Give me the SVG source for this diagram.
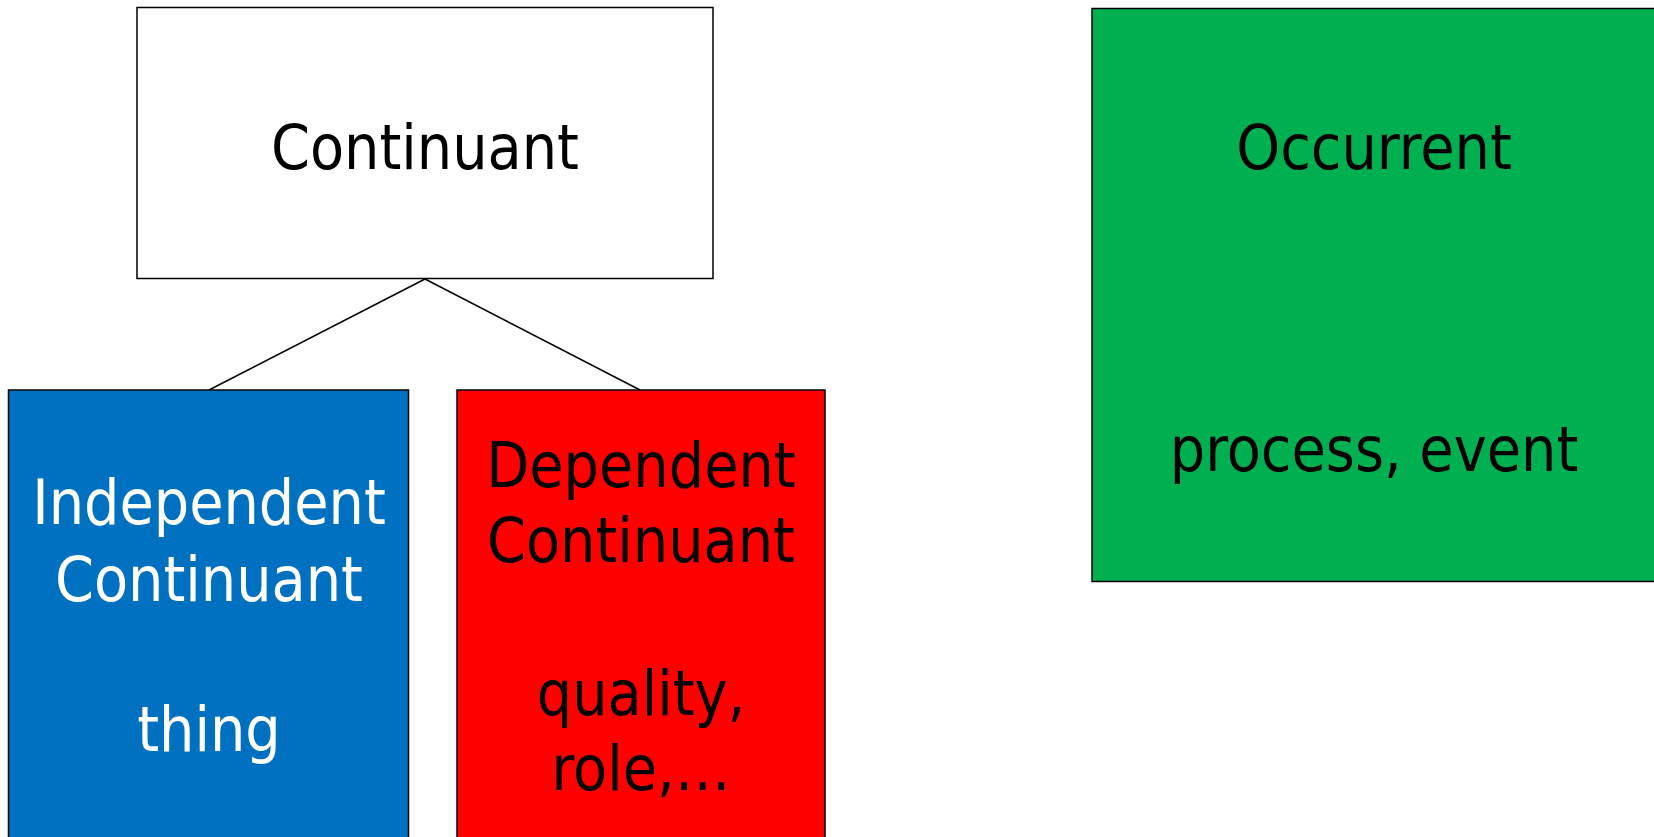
<svg xmlns="http://www.w3.org/2000/svg" width="1654" height="837" viewBox="0 0 1654 837">
<style>
.box{stroke:#000;stroke-width:1.5}
.t{font-family:"DejaVu Sans Condensed","DejaVu Sans",sans-serif;font-stretch:condensed;font-size:62px;text-anchor:middle}
.conn{stroke:#000;stroke-width:1.5;fill:none}
</style>
<rect width="1654" height="837" fill="#fff"/>
<g id="connectors">
<line class="conn" x1="425" y1="279" x2="209" y2="390"/>
<line class="conn" x1="425" y1="279" x2="640" y2="390"/>
</g>
<g id="continuant">
<rect class="box" x="137" y="7.5" width="576" height="271" fill="#fff"/>
<text class="t" x="425" y="169" fill="#000">Continuant</text>
</g>
<g id="independent">
<rect class="box" x="8.5" y="390" width="400" height="460" fill="#0070C0"/>
<text class="t" x="209" y="524" fill="#fff">Independent</text>
<text class="t" x="209" y="601" fill="#fff">Continuant</text>
<text class="t" x="209" y="751" fill="#fff">thing</text>
</g>
<g id="dependent">
<rect class="box" x="457" y="390" width="368" height="460" fill="#FF0000"/>
<text class="t" x="641" y="487" fill="#000">Dependent</text>
<text class="t" x="641" y="562" fill="#000">Continuant</text>
<text class="t" x="641" y="715" fill="#000">quality,</text>
<text class="t" x="641" y="790" fill="#000">role,…</text>
</g>
<g id="occurrent">
<rect class="box" x="1092" y="8.5" width="600" height="573" fill="#00B050"/>
<text class="t" x="1374" y="169" fill="#000">Occurrent</text>
<text class="t" x="1374" y="471" fill="#000">process, event</text>
</g>
</svg>
